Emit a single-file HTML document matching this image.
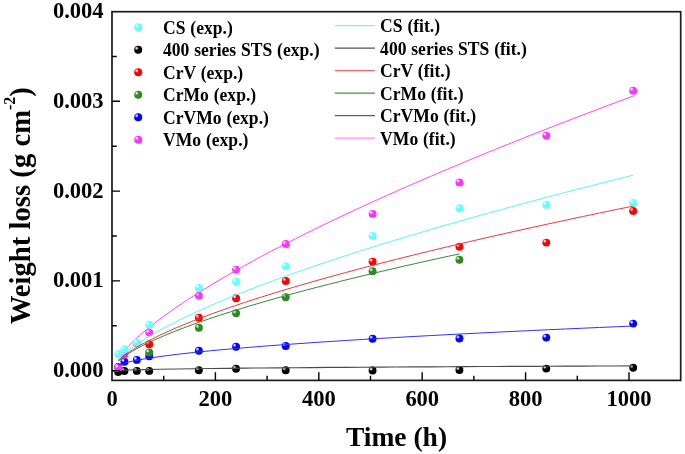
<!DOCTYPE html>
<html><head><meta charset="utf-8"><style>html,body{margin:0;padding:0;background:#fff;overflow:hidden}svg{display:block;will-change:transform}</style></head>
<body><svg width="685" height="454" viewBox="0 0 685 454">
<defs><radialGradient id="gCS" cx="0.31" cy="0.31" r="0.85" fx="0.31" fy="0.31"><stop offset="0" stop-color="#ffffff"/><stop offset="0.1" stop-color="#d8ffff"/><stop offset="0.3" stop-color="#66ffff"/><stop offset="0.75" stop-color="#66ffff"/><stop offset="1" stop-color="#56d8d8"/></radialGradient><radialGradient id="gSTS" cx="0.31" cy="0.31" r="0.85" fx="0.31" fy="0.31"><stop offset="0" stop-color="#e0e0e0"/><stop offset="0.1" stop-color="#c8c8c8"/><stop offset="0.3" stop-color="#000000"/><stop offset="0.75" stop-color="#000000"/><stop offset="1" stop-color="#000000"/></radialGradient><radialGradient id="gCrV" cx="0.31" cy="0.31" r="0.85" fx="0.31" fy="0.31"><stop offset="0" stop-color="#ffffff"/><stop offset="0.1" stop-color="#ffbfbf"/><stop offset="0.3" stop-color="#ff0000"/><stop offset="0.75" stop-color="#ff0000"/><stop offset="1" stop-color="#d80000"/></radialGradient><radialGradient id="gCrMo" cx="0.31" cy="0.31" r="0.85" fx="0.31" fy="0.31"><stop offset="0" stop-color="#ffffff"/><stop offset="0.1" stop-color="#c9e2c6"/><stop offset="0.3" stop-color="#2a8c1e"/><stop offset="0.75" stop-color="#2a8c1e"/><stop offset="1" stop-color="#237719"/></radialGradient><radialGradient id="gCrVMo" cx="0.31" cy="0.31" r="0.85" fx="0.31" fy="0.31"><stop offset="0" stop-color="#ffffff"/><stop offset="0.1" stop-color="#bfbfff"/><stop offset="0.3" stop-color="#0000ff"/><stop offset="0.75" stop-color="#0000ff"/><stop offset="1" stop-color="#0000d8"/></radialGradient><radialGradient id="gVMo" cx="0.31" cy="0.31" r="0.85" fx="0.31" fy="0.31"><stop offset="0" stop-color="#ffffff"/><stop offset="0.1" stop-color="#ffccff"/><stop offset="0.3" stop-color="#ff33ff"/><stop offset="0.75" stop-color="#ff33ff"/><stop offset="1" stop-color="#d82bd8"/></radialGradient></defs>
<rect width="685" height="454" fill="#fff"/>
<circle cx="118.20" cy="372.00" r="3.95" fill="url(#gSTS)"/>
<circle cx="124.41" cy="371.00" r="3.95" fill="url(#gSTS)"/>
<circle cx="136.82" cy="370.90" r="3.95" fill="url(#gSTS)"/>
<circle cx="149.22" cy="370.90" r="3.95" fill="url(#gSTS)"/>
<circle cx="198.86" cy="370.20" r="3.95" fill="url(#gSTS)"/>
<circle cx="236.08" cy="368.80" r="3.95" fill="url(#gSTS)"/>
<circle cx="285.71" cy="370.20" r="3.95" fill="url(#gSTS)"/>
<circle cx="372.57" cy="370.50" r="3.95" fill="url(#gSTS)"/>
<circle cx="459.42" cy="370.00" r="3.95" fill="url(#gSTS)"/>
<circle cx="546.28" cy="368.60" r="3.95" fill="url(#gSTS)"/>
<circle cx="633.14" cy="367.80" r="3.95" fill="url(#gSTS)"/>
<circle cx="118.20" cy="367.00" r="3.95" fill="url(#gCrVMo)"/>
<circle cx="124.41" cy="361.80" r="3.95" fill="url(#gCrVMo)"/>
<circle cx="136.82" cy="359.90" r="3.95" fill="url(#gCrVMo)"/>
<circle cx="149.22" cy="356.20" r="3.95" fill="url(#gCrVMo)"/>
<circle cx="198.86" cy="350.70" r="3.95" fill="url(#gCrVMo)"/>
<circle cx="236.08" cy="346.70" r="3.95" fill="url(#gCrVMo)"/>
<circle cx="285.71" cy="346.00" r="3.95" fill="url(#gCrVMo)"/>
<circle cx="372.57" cy="338.70" r="3.95" fill="url(#gCrVMo)"/>
<circle cx="459.42" cy="338.50" r="3.95" fill="url(#gCrVMo)"/>
<circle cx="546.28" cy="337.60" r="3.95" fill="url(#gCrVMo)"/>
<circle cx="633.14" cy="323.60" r="3.95" fill="url(#gCrVMo)"/>
<circle cx="149.22" cy="352.40" r="3.95" fill="url(#gCrMo)"/>
<circle cx="198.86" cy="327.80" r="3.95" fill="url(#gCrMo)"/>
<circle cx="236.08" cy="313.30" r="3.95" fill="url(#gCrMo)"/>
<circle cx="285.71" cy="297.20" r="3.95" fill="url(#gCrMo)"/>
<circle cx="372.57" cy="271.20" r="3.95" fill="url(#gCrMo)"/>
<circle cx="459.42" cy="259.80" r="3.95" fill="url(#gCrMo)"/>
<circle cx="149.22" cy="344.20" r="3.95" fill="url(#gCrV)"/>
<circle cx="198.86" cy="317.70" r="3.95" fill="url(#gCrV)"/>
<circle cx="236.08" cy="298.30" r="3.95" fill="url(#gCrV)"/>
<circle cx="285.71" cy="281.00" r="3.95" fill="url(#gCrV)"/>
<circle cx="372.57" cy="261.60" r="3.95" fill="url(#gCrV)"/>
<circle cx="459.42" cy="246.80" r="3.95" fill="url(#gCrV)"/>
<circle cx="546.28" cy="242.60" r="3.95" fill="url(#gCrV)"/>
<circle cx="633.14" cy="211.00" r="3.95" fill="url(#gCrV)"/>
<polyline points="112.26,371.48 116.65,370.72 121.05,370.41 125.44,370.19 129.84,370.02 134.23,369.87 138.63,369.74 143.02,369.62 159.92,369.25 176.82,368.96 193.72,368.71 210.62,368.50 227.52,368.31 244.42,368.14 261.32,367.98 278.22,367.83 295.12,367.70 312.03,367.57 328.93,367.44 345.83,367.33 362.73,367.22 379.63,367.11 396.53,367.01 413.43,366.91 430.33,366.82 447.23,366.73 464.13,366.64 481.03,366.55 497.93,366.47 514.83,366.39 531.73,366.31 548.63,366.24 565.53,366.16 582.43,366.09 599.33,366.02 616.24,365.95 633.14,365.88" fill="none" stroke="#4a4a4a" stroke-width="1.15" stroke-linejoin="round"/>
<circle cx="118.20" cy="367.50" r="3.95" fill="url(#gVMo)"/>
<circle cx="124.41" cy="354.80" r="3.95" fill="url(#gVMo)"/>
<circle cx="136.82" cy="343.20" r="3.95" fill="url(#gVMo)"/>
<circle cx="149.22" cy="332.60" r="3.95" fill="url(#gVMo)"/>
<circle cx="198.86" cy="295.60" r="3.95" fill="url(#gVMo)"/>
<circle cx="236.08" cy="269.60" r="3.95" fill="url(#gVMo)"/>
<circle cx="285.71" cy="244.00" r="3.95" fill="url(#gVMo)"/>
<circle cx="372.57" cy="213.90" r="3.95" fill="url(#gVMo)"/>
<circle cx="459.42" cy="182.40" r="3.95" fill="url(#gVMo)"/>
<circle cx="546.28" cy="135.60" r="3.95" fill="url(#gVMo)"/>
<circle cx="633.14" cy="90.70" r="3.95" fill="url(#gVMo)"/>
<polyline points="118.20,357.94 121.75,353.41 125.29,349.36 128.84,345.61 132.38,342.10 135.93,338.76 139.47,335.57 143.02,332.49 159.92,319.04 176.82,306.95 193.72,295.77 210.62,285.25 227.52,275.26 244.42,265.69 261.32,256.48 278.22,247.56 295.12,238.92 312.03,230.50 328.93,222.30 345.83,214.28 362.73,206.43 379.63,198.73 396.53,191.18 413.43,183.76 430.33,176.46 447.23,169.27 464.13,162.19 481.03,155.21 497.93,148.33 514.83,141.53 531.73,134.81 548.63,128.18 565.53,121.62 582.43,115.13 599.33,108.71 616.24,102.36 633.14,96.07" fill="none" stroke="#ff44ff" stroke-width="1.0" stroke-linejoin="round"/>
<circle cx="118.20" cy="353.90" r="3.95" fill="url(#gCS)"/>
<circle cx="124.41" cy="349.20" r="3.95" fill="url(#gCS)"/>
<circle cx="136.82" cy="342.80" r="3.95" fill="url(#gCS)"/>
<circle cx="149.22" cy="324.80" r="3.95" fill="url(#gCS)"/>
<circle cx="198.86" cy="288.00" r="3.95" fill="url(#gCS)"/>
<circle cx="236.08" cy="281.50" r="3.95" fill="url(#gCS)"/>
<circle cx="285.71" cy="266.10" r="3.95" fill="url(#gCS)"/>
<circle cx="372.57" cy="235.90" r="3.95" fill="url(#gCS)"/>
<circle cx="459.42" cy="208.30" r="3.95" fill="url(#gCS)"/>
<circle cx="546.28" cy="204.70" r="3.95" fill="url(#gCS)"/>
<circle cx="633.14" cy="202.90" r="3.95" fill="url(#gCS)"/>
<polyline points="118.20,359.76 121.75,356.17 125.29,353.00 128.84,350.11 132.38,347.41 135.93,344.87 139.47,342.46 143.02,340.14 159.92,330.13 176.82,321.27 193.72,313.15 210.62,305.59 227.52,298.44 244.42,291.65 261.32,285.13 278.22,278.86 295.12,272.81 312.03,266.93 328.93,261.22 345.83,255.66 362.73,250.23 379.63,244.92 396.53,239.73 413.43,234.63 430.33,229.63 447.23,224.72 464.13,219.89 481.03,215.14 497.93,210.46 514.83,205.85 531.73,201.31 548.63,196.82 565.53,192.40 582.43,188.02 599.33,183.70 616.24,179.43 633.14,175.21" fill="none" stroke="#5ef2f2" stroke-width="1.0" stroke-linejoin="round"/>
<polyline points="118.20,360.72 121.75,357.56 125.29,354.79 128.84,352.27 132.38,349.93 135.93,347.74 139.47,345.65 143.02,343.66 159.92,335.08 176.82,327.54 193.72,320.66 210.62,314.27 227.52,308.25 244.42,302.54 261.32,297.08 278.22,291.83 295.12,286.77 312.03,281.87 328.93,277.12 345.83,272.49 362.73,267.98 379.63,263.57 396.53,259.27 413.43,255.05 430.33,250.91 447.23,246.85 464.13,242.86 481.03,238.94 497.93,235.08 514.83,231.28 531.73,227.54 548.63,223.85 565.53,220.21 582.43,216.62 599.33,213.07 616.24,209.56 633.14,206.10" fill="none" stroke="#e63c3c" stroke-width="1.0" stroke-linejoin="round"/>
<polyline points="118.20,361.27 121.75,358.33 125.29,355.75 128.84,353.41 132.38,351.24 135.93,349.21 139.47,347.27 143.02,345.43 153.93,340.18 164.84,335.40 175.75,330.96 186.66,326.79 197.57,322.83 208.48,319.04 219.39,315.41 230.30,311.91 241.21,308.52 252.12,305.23 263.04,302.03 273.95,298.91 284.86,295.87 295.77,292.90 306.68,289.98 317.59,287.13 328.50,284.33 339.41,281.58 350.32,278.87 361.23,276.21 372.14,273.59 383.05,271.01 393.96,268.47 404.87,265.96 415.78,263.49 426.69,261.04 437.60,258.63 448.51,256.24 459.42,253.89" fill="none" stroke="#348834" stroke-width="1.0" stroke-linejoin="round"/>
<polyline points="118.20,365.13 121.75,363.91 125.29,362.89 128.84,362.01 132.38,361.21 135.93,360.48 139.47,359.81 143.02,359.17 159.92,356.56 176.82,354.39 193.72,352.48 210.62,350.77 227.52,349.20 244.42,347.74 261.32,346.37 278.22,345.08 295.12,343.85 312.03,342.68 328.93,341.56 345.83,340.48 362.73,339.44 379.63,338.43 396.53,337.45 413.43,336.51 430.33,335.59 447.23,334.69 464.13,333.82 481.03,332.97 497.93,332.14 514.83,331.32 531.73,330.52 548.63,329.74 565.53,328.98 582.43,328.22 599.33,327.48 616.24,326.76 633.14,326.04" fill="none" stroke="#3030ff" stroke-width="1.0" stroke-linejoin="round"/>
<rect x="112" y="11.7" width="568.7" height="368.7" fill="none" stroke="#1c1c1c" stroke-width="1.7"/>
<path d="M163.70,380.2V375.7 M215.40,380.2V372.2 M267.10,380.2V375.7 M318.80,380.2V372.2 M370.50,380.2V375.7 M422.20,380.2V372.2 M473.90,380.2V375.7 M525.60,380.2V372.2 M577.30,380.2V375.7 M629.00,380.2V372.2 M112,370.60H120 M112,325.72H116.8 M112,280.84H120 M112,235.96H116.8 M112,191.08H120 M112,146.20H116.8 M112,101.32H120 M112,56.44H116.8" stroke="#000" stroke-width="1.4" fill="none"/>
<g font-family="Liberation Serif, serif" font-weight="bold" font-size="22.6" letter-spacing="-0.1" fill="#000">
<text transform="translate(103.4,377.10) scale(1,1.03)" text-anchor="end">0.000</text>
<text transform="translate(103.4,287.34) scale(1,1.03)" text-anchor="end">0.001</text>
<text transform="translate(103.4,197.58) scale(1,1.03)" text-anchor="end">0.002</text>
<text transform="translate(103.4,107.82) scale(1,1.03)" text-anchor="end">0.003</text>
<text transform="translate(103.4,18.06) scale(1,1.03)" text-anchor="end">0.004</text>
<text transform="translate(112.00,406.2) scale(1,1.03)" text-anchor="middle">0</text>
<text transform="translate(215.40,406.2) scale(1,1.03)" text-anchor="middle">200</text>
<text transform="translate(318.80,406.2) scale(1,1.03)" text-anchor="middle">400</text>
<text transform="translate(422.20,406.2) scale(1,1.03)" text-anchor="middle">600</text>
<text transform="translate(525.60,406.2) scale(1,1.03)" text-anchor="middle">800</text>
<text transform="translate(629.00,406.2) scale(1,1.03)" text-anchor="middle">1000</text>
</g>
<text x="396.5" y="446" text-anchor="middle" font-family="Liberation Serif, serif" font-weight="bold" font-size="27.5">Time (h)</text>
<text transform="translate(30.3,324.3) rotate(-90)" font-family="Liberation Serif, serif" font-weight="bold" font-size="28.7"><tspan>Weight loss (g cm</tspan><tspan font-size="16" dy="-15.8">-2</tspan><tspan dy="15.8">)</tspan></text>
<g font-family="Liberation Serif, serif" font-weight="bold" font-size="17.6" word-spacing="0.4" fill="#000">
<circle cx="138.20" cy="27.30" r="4.0" fill="url(#gCS)"/>
<text transform="translate(163.0,33.70) scale(1,1.12)">CS (exp.)</text>
<path d="M334.9,25.60H375" stroke="#7cf2f2" stroke-width="1.3"/>
<text transform="translate(380.1,32.00) scale(1,1.12)">CS (fit.)</text>
<circle cx="138.20" cy="49.78" r="4.0" fill="url(#gSTS)"/>
<text transform="translate(163.0,56.20) scale(1,1.12)">400 series STS (exp.)</text>
<path d="M334.9,48.10H375" stroke="#505050" stroke-width="1.3"/>
<text transform="translate(380.1,54.50) scale(1,1.12)">400 series STS (fit.)</text>
<circle cx="138.20" cy="72.26" r="4.0" fill="url(#gCrV)"/>
<text transform="translate(163.0,78.70) scale(1,1.12)">CrV (exp.)</text>
<path d="M334.9,70.60H375" stroke="#f26a6a" stroke-width="1.3"/>
<text transform="translate(380.1,77.00) scale(1,1.12)">CrV (fit.)</text>
<circle cx="138.20" cy="94.74" r="4.0" fill="url(#gCrMo)"/>
<text transform="translate(163.0,101.20) scale(1,1.12)">CrMo (exp.)</text>
<path d="M334.9,93.10H375" stroke="#4a8a4a" stroke-width="1.3"/>
<text transform="translate(380.1,99.50) scale(1,1.12)">CrMo (fit.)</text>
<circle cx="138.20" cy="117.22" r="4.0" fill="url(#gCrVMo)"/>
<text transform="translate(163.0,123.70) scale(1,1.12)">CrVMo (exp.)</text>
<path d="M334.9,115.60H375" stroke="#5555b8" stroke-width="1.3"/>
<text transform="translate(380.1,122.00) scale(1,1.12)">CrVMo (fit.)</text>
<circle cx="138.20" cy="139.70" r="4.0" fill="url(#gVMo)"/>
<text transform="translate(163.0,146.20) scale(1,1.12)">VMo (exp.)</text>
<path d="M334.9,138.10H375" stroke="#ff88ff" stroke-width="1.3"/>
<text transform="translate(380.1,144.50) scale(1,1.12)">VMo (fit.)</text>
</g>
</svg></body></html>
